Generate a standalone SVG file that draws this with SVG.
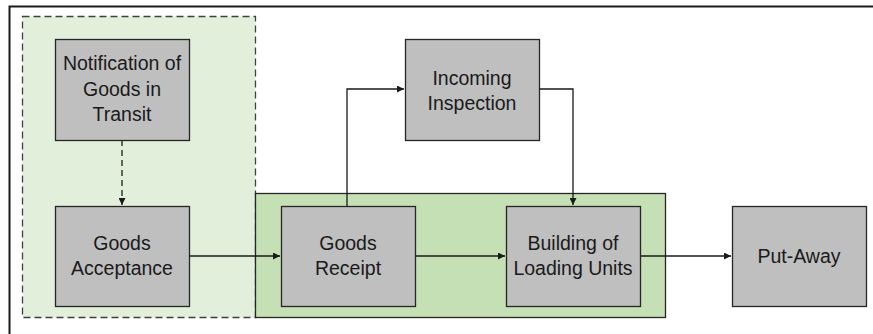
<svg xmlns="http://www.w3.org/2000/svg" width="873" height="334" viewBox="0 0 873 334">
<defs>
<style>
.node{fill:#bfbfbf;stroke:#262626;stroke-width:1.3}
.t{font-family:"Liberation Sans",Arial,sans-serif;font-size:19.5px;fill:#1a1a1a;text-anchor:middle}
.c{fill:none;stroke:#1a1a1a;stroke-width:1.3}
</style>
<marker id="a" viewBox="0 0 10 10" refX="10" refY="5" markerWidth="7" markerHeight="7" orient="auto" markerUnits="userSpaceOnUse"><path d="M0,0L10,5L0,10z" fill="#1a1a1a"/></marker>
</defs>
<rect width="873" height="334" fill="#fff"/>
<path d="M9.5,334V6.5H873" fill="none" stroke="#1a1a1a" stroke-width="2"/>
<g id="group-pre">
<rect x="22.5" y="16.5" width="233" height="301" fill="#e2efda" stroke="#404040" stroke-width="1.3" stroke-dasharray="7,4"/>
</g>
<g id="group-receipt">
<rect x="255.5" y="193.5" width="410" height="124" fill="#c5e0b4" stroke="#262626" stroke-width="1.3"/>
</g>
<g id="connectors">
<path class="c" d="M122,140V205" stroke-dasharray="6,4" marker-end="url(#a)"/>
<path class="c" d="M189,256H280" marker-end="url(#a)"/>
<path class="c" d="M415,256H505" marker-end="url(#a)"/>
<path class="c" d="M347,206V89H404" marker-end="url(#a)"/>
<path class="c" d="M539,89H573V205" marker-end="url(#a)"/>
<path class="c" d="M641,256H731" marker-end="url(#a)"/>
</g>
<g id="n-notification">
<rect class="node" x="55.5" y="39.5" width="134" height="101"/>
<text class="t" x="122" y="70">Notification of</text>
<text class="t" x="122" y="96">Goods in</text>
<text class="t" x="122" y="121">Transit</text>
</g>
<g id="n-acceptance">
<rect class="node" x="55.5" y="206.5" width="134" height="100"/>
<text class="t" x="122" y="250">Goods</text>
<text class="t" x="122" y="275">Acceptance</text>
</g>
<g id="n-receipt">
<rect class="node" x="281.5" y="206.5" width="134" height="100"/>
<text class="t" x="348" y="250">Goods</text>
<text class="t" x="348" y="275">Receipt</text>
</g>
<g id="n-inspection">
<rect class="node" x="405.5" y="39.5" width="134" height="101"/>
<text class="t" x="472" y="85">Incoming</text>
<text class="t" x="472" y="110">Inspection</text>
</g>
<g id="n-building">
<rect class="node" x="506.5" y="206.5" width="134" height="100"/>
<text class="t" x="573" y="250">Building of</text>
<text class="t" x="573" y="275">Loading Units</text>
</g>
<g id="n-putaway">
<rect class="node" x="732.5" y="206.5" width="134" height="100"/>
<text class="t" x="799" y="263">Put-Away</text>
</g>
</svg>
